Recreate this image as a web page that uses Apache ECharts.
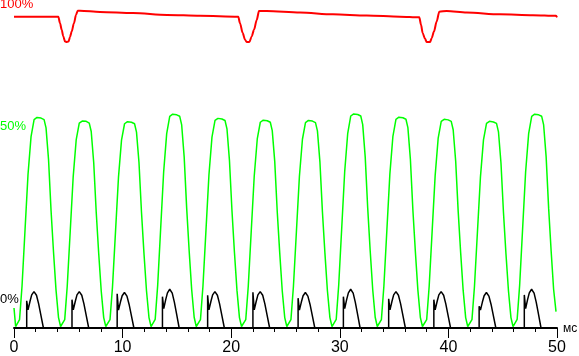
<!DOCTYPE html>
<html>
<head>
<meta charset="utf-8">
<script src="https://cdn.jsdelivr.net/npm/echarts@6/dist/echarts.min.js"></script>
<style>
html,body{margin:0;padding:0;background:#fff;}
#chart{width:579px;height:356px;}
</style>
</head>
<body>
<div id="chart"></div>
<script>
// time in ms, value in trace units
const redTrace = [
[0,104.4],[4.08,104.4],[4.24,102.2],[4.39,100],[4.54,97.8],[4.70,96.1],[4.88,95.9],[5.02,96.1],[5.16,97.6],[5.31,99.4],[5.52,102.2],[5.71,105],[5.87,106.4],[6.08,106.4],[7.92,106],[10.96,105.6],[14.09,105],[17.13,104.7],
[20.65,104.4],[20.81,102.2],[21.06,98.9],[21.27,96.7],[21.43,95.9],[21.67,95.9],[21.89,97.8],[22.10,100],[22.35,103.3],[22.56,106.3],[23.27,106.3],[26.34,105.8],[29.37,105.2],[32.48,104.8],[35.54,104.4],
[37.32,104.2],[37.48,101.7],[37.63,98.9],[37.85,97],[38.0,95.9],[38.31,95.9],[38.46,97.2],[38.67,99.4],[38.92,102.8],[39.16,106.1],[39.84,106.3],[41.69,105.8],[44.75,105.2],[47.79,104.9],[49.91,104.7],[50,104.2]
];

const greenTrace = [
[0,6.7],[0.15,0.5],
[0.28,0.5],[0.51,2.8],[0.74,14.1],[1.02,33.2],[1.29,51.5],[1.57,64.2],[1.85,69.9],[2.12,70.6],[2.49,70.4],[2.77,69.9],[2.95,67.1],[3.18,56.5],[3.41,39.5],[3.64,25.4],[3.87,12.7],[4.10,3.5],[4.29,0.5],
[4.44,0.5],[4.67,2.8],[4.90,13.9],[5.18,32.6],[5.45,50.7],[5.73,63.2],[6.01,68.7],[6.28,69.4],[6.65,69.3],[6.93,68.7],[7.11,65.9],[7.34,55.5],[7.57,38.9],[7.80,25.0],[8.03,12.5],[8.26,3.5],[8.45,0.5],
[8.61,0.5],[8.84,2.8],[9.07,13.8],[9.35,32.5],[9.62,50.5],[9.90,63.0],[10.18,68.5],[10.45,69.2],[10.82,69.0],[11.10,68.5],[11.28,65.7],[11.51,55.4],[11.74,38.8],[11.97,24.9],[12.20,12.5],[12.43,3.5],[12.62,0.5],
[12.77,0.5],[13.00,2.9],[13.23,14.3],[13.51,33.7],[13.78,52.3],[14.06,65.2],[14.34,71.0],[14.61,71.7],[14.98,71.5],[15.26,71.0],[15.44,68.1],[15.67,57.4],[15.90,40.2],[16.13,25.8],[16.36,12.9],[16.59,3.6],[16.78,0.5],
[16.94,0.5],[17.17,2.8],[17.40,14.1],[17.68,33.0],[17.95,51.3],[18.23,64.0],[18.51,69.6],[18.78,70.3],[19.15,70.1],[19.43,69.6],[19.61,66.8],[19.84,56.2],[20.07,39.4],[20.30,25.3],[20.53,12.7],[20.76,3.5],[20.95,0.5],
[21.11,0.5],[21.34,2.8],[21.57,13.9],[21.85,32.8],[22.12,50.9],[22.40,63.4],[22.68,69.0],[22.95,69.7],[23.32,69.5],[23.60,69.0],[23.78,66.2],[24.01,55.8],[24.24,39.0],[24.47,25.1],[24.70,12.5],[24.93,3.5],[25.12,0.5],
[25.27,0.5],[25.50,2.8],[25.73,13.9],[26.01,32.7],[26.28,50.8],[26.56,63.3],[26.84,68.9],[27.11,69.6],[27.48,69.4],[27.76,68.9],[27.94,66.1],[28.17,55.7],[28.40,39.0],[28.63,25.1],[28.86,12.5],[29.09,3.5],[29.28,0.5],
[29.44,0.5],[29.67,2.9],[29.90,14.4],[30.18,33.7],[30.45,52.4],[30.73,65.3],[31.01,71.1],[31.28,71.8],[31.65,71.6],[31.93,71.1],[32.11,68.2],[32.34,57.4],[32.57,40.2],[32.80,25.8],[33.03,12.9],[33.26,3.6],[33.45,0.5],
[33.60,0.5],[33.83,2.8],[34.06,14.1],[34.34,33.2],[34.61,51.6],[34.89,64.3],[35.17,70.0],[35.44,70.7],[35.81,70.5],[36.09,70.0],[36.27,67.2],[36.50,56.6],[36.73,39.6],[36.96,25.5],[37.19,12.7],[37.42,3.5],[37.61,0.5],
[37.77,0.5],[38.00,2.8],[38.23,14.0],[38.51,32.9],[38.78,51.1],[39.06,63.7],[39.34,69.3],[39.61,70.0],[39.98,69.8],[40.26,69.3],[40.44,66.5],[40.67,56.0],[40.90,39.2],[41.13,25.2],[41.36,12.6],[41.59,3.5],[41.78,0.5],
[41.94,0.5],[42.17,2.8],[42.40,13.9],[42.68,32.6],[42.95,50.6],[43.23,63.1],[43.51,68.6],[43.78,69.3],[44.15,69.1],[44.43,68.6],[44.61,65.8],[44.84,55.4],[45.07,38.8],[45.30,24.9],[45.53,12.5],[45.76,3.5],[45.95,0.5],
[46.10,0.5],[46.33,2.9],[46.56,14.3],[46.84,33.7],[47.11,52.3],[47.39,65.2],[47.67,71.0],[47.94,71.7],[48.31,71.5],[48.59,71.0],[48.77,68.1],[49.00,57.4],[49.23,40.2],[49.46,25.8],[49.69,12.9],[49.91,5.5]
];

const blackTrace = [
[0,0],
[1.17,0],[1.17,9.1],[1.29,6.1],[1.47,8.9],[1.63,11.1],[1.84,12.2],[2.07,11.0],[2.27,8.1],[2.47,4.4],[2.71,0],
[5.34,0],[5.34,9.5],[5.46,6.1],[5.64,8.9],[5.80,11.1],[6.01,12.2],[6.24,11.0],[6.44,8.1],[6.64,4.4],[6.88,0],
[9.50,0],[9.50,11.5],[9.62,6.0],[9.80,8.7],[9.96,10.8],[10.17,11.9],[10.40,10.7],[10.60,7.9],[10.80,4.3],[11.04,0],
[13.67,0],[13.67,10.5],[13.79,6.5],[13.97,9.5],[14.13,11.8],[14.34,13.0],[14.57,11.7],[14.77,8.6],[14.97,4.7],[15.21,0],
[17.83,0],[17.83,11.0],[17.95,6.1],[18.13,8.9],[18.29,11.1],[18.50,12.2],[18.73,11.0],[18.93,8.1],[19.13,4.4],[19.37,0],
[22.00,0],[22.00,12.0],[22.12,6.1],[22.30,8.9],[22.46,11.1],[22.67,12.2],[22.90,11.0],[23.10,8.1],[23.30,4.4],[23.54,0],
[26.16,0],[26.16,10.0],[26.28,6.0],[26.46,8.7],[26.62,10.8],[26.83,11.9],[27.06,10.7],[27.26,7.9],[27.46,4.3],[27.70,0],
[30.33,0],[30.33,10.5],[30.45,6.5],[30.63,9.5],[30.79,11.8],[31.00,13.0],[31.23,11.7],[31.43,8.6],[31.63,4.7],[31.87,0],
[34.50,0],[34.50,9.8],[34.62,6.1],[34.80,8.9],[34.96,11.1],[35.17,12.2],[35.40,11.0],[35.60,8.1],[35.80,4.4],[36.04,0],
[38.66,0],[38.66,9.5],[38.78,6.1],[38.96,8.9],[39.12,11.1],[39.33,12.2],[39.56,11.0],[39.76,8.1],[39.96,4.4],[40.20,0],
[42.83,0],[42.83,7.3],[42.95,6.0],[43.13,8.7],[43.29,10.8],[43.50,11.9],[43.73,10.7],[43.93,7.9],[44.13,4.3],[44.37,0],
[46.99,0],[46.99,11.1],[47.11,6.5],[47.29,9.5],[47.45,11.8],[47.66,13.0],[47.89,11.7],[48.09,8.6],[48.29,4.7],[48.53,0],
[50,0]
];

const traceLabels = ['100%', '50%', '0%'];
const traceColors = ['#ff0000', '#00ff00', '#000000'];
const axisUnit = 'мс';

const FONT = "'Liberation Sans', Arial, sans-serif";
const chart = echarts.init(document.getElementById('chart'), null, {renderer: 'canvas'});

function lineSeries(data, color, width, smooth) {
  return {
    type: 'line', data: data, showSymbol: false, symbol: 'none',
    smooth: smooth || false, smoothMonotone: 'x',
    lineStyle: {color: color, width: width}, animation: false, silent: true
  };
}

const labelY = [4.5, 126.5, 300];

const graphics = traceLabels.map(function (t, i) {
  return {
    type: 'text', left: 0, top: labelY[i] - 7, silent: true,
    style: {text: t, fill: traceColors[i], font: '13px ' + FONT}
  };
});
graphics.push({
  type: 'text', left: 563, top: 323, silent: true,
  style: {text: axisUnit, fill: '#000', font: '12px ' + FONT}
});

chart.setOption({
  animation: false,
  backgroundColor: '#ffffff',
  grid: {left: 14, right: 22, top: 0, bottom: 26},
  xAxis: {
    type: 'value', min: 0, max: 50, interval: 10,
    axisLine: {lineStyle: {color: '#000', width: 2}},
    axisTick: {length: 10, lineStyle: {color: '#000', width: 1}},
    minorTick: {show: true, splitNumber: 5, length: 4, lineStyle: {color: '#000', width: 1}},
    splitLine: {show: false},
    axisLabel: {color: '#000', fontSize: 16, margin: 12, fontFamily: FONT}
  },
  yAxis: {type: 'value', min: 0, max: 110, show: false},
  graphic: graphics,
  series: [
    lineSeries(redTrace, traceColors[0], 2, 0.3),
    lineSeries(greenTrace, traceColors[1], 1.5),
    lineSeries(blackTrace, traceColors[2], 1.5)
  ]
});
</script>
</body>
</html>
